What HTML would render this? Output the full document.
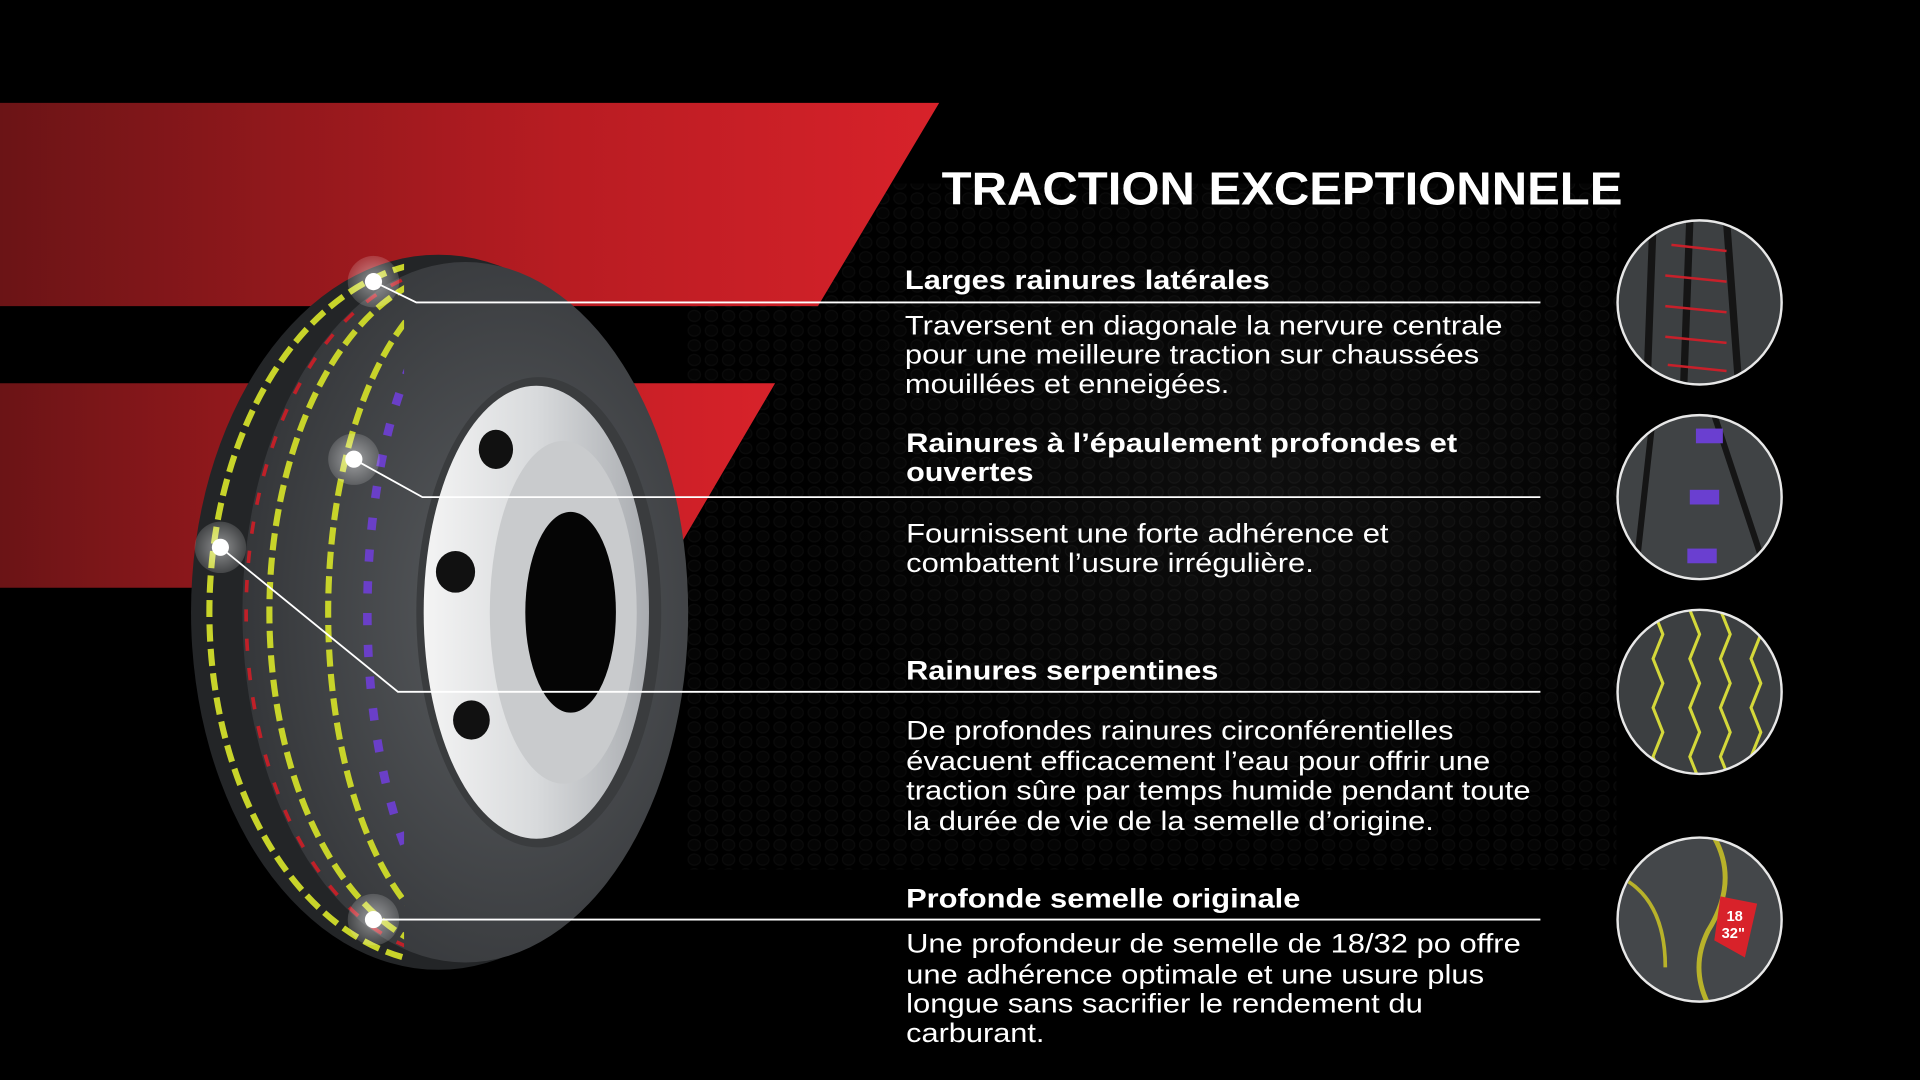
<!DOCTYPE html>
<html><head><meta charset="utf-8"><style>html,body{margin:0;padding:0;background:#000;overflow:hidden}svg{display:block}</style></head>
<body>
<svg width="1920" height="1080" viewBox="0 0 1568 882" preserveAspectRatio="none" xmlns="http://www.w3.org/2000/svg" font-family="Liberation Sans, Arial, sans-serif">
<defs>
<linearGradient id="rg" x1="0" x2="1" y1="0" y2="0"><stop offset="0" stop-color="#6b1416"/><stop offset="0.6" stop-color="#b81c22"/><stop offset="1" stop-color="#d8222a"/></linearGradient>
<radialGradient id="bgg" cx="0.62" cy="0.45" r="0.5"><stop offset="0" stop-color="#1c1c1c"/><stop offset="1" stop-color="#000"/></radialGradient>
<pattern id="hex" width="14" height="12" patternUnits="userSpaceOnUse"><ellipse cx="7" cy="6" rx="5" ry="4.5" fill="#0a0a0a" stroke="#1e1e1e" stroke-width="1"/></pattern>
<radialGradient id="tireg" cx="0.6" cy="0.5" r="0.6"><stop offset="0" stop-color="#5a5d60"/><stop offset="1" stop-color="#35373a"/></radialGradient>
<linearGradient id="wheelg" x1="0" x2="1"><stop offset="0" stop-color="#f4f4f4"/><stop offset="0.5" stop-color="#d8dadc"/><stop offset="1" stop-color="#a9acb0"/></linearGradient>
<radialGradient id="dotg"><stop offset="0" stop-color="#fff" stop-opacity="0.5"/><stop offset="1" stop-color="#fff" stop-opacity="0.15"/></radialGradient>
<clipPath id="tc"><ellipse cx="358" cy="500" rx="202" ry="292"/></clipPath>
<clipPath id="tl"><rect x="0" y="0" width="330" height="882"/></clipPath>
<clipPath id="c1"><circle cx="1388" cy="247" r="67"/></clipPath>
<clipPath id="c2"><circle cx="1388" cy="406" r="67"/></clipPath>
<clipPath id="c3"><circle cx="1388" cy="565" r="67"/></clipPath>
<clipPath id="c4"><circle cx="1388" cy="751" r="67"/></clipPath>
</defs>
<rect width="1568" height="882" fill="#000"/>
<rect x="560" y="150" width="760" height="560" fill="url(#hex)" opacity="0.7"/>
<rect x="560" y="150" width="760" height="560" fill="url(#bgg)" opacity="0.5"/>
<polygon points="0,84 767,84 668,250 0,250" fill="url(#rg)"/>
<polygon points="0,313 633,313 535,480 0,480" fill="url(#rg)"/>

<!-- tire -->
<g>
<ellipse cx="358" cy="500" rx="202" ry="292" fill="#232527"/>
<ellipse cx="380" cy="500" rx="182" ry="286" fill="url(#tireg)"/>
<g clip-path="url(#tc)">
<g clip-path="url(#tl)" fill="none">
<ellipse cx="366" cy="500" rx="195" ry="287" stroke="#c8d42a" stroke-width="5" stroke-dasharray="14 6"/>
<ellipse cx="376" cy="500" rx="175" ry="282" stroke="#c02028" stroke-width="3" stroke-dasharray="10 14"/>
<ellipse cx="384" cy="500" rx="164" ry="280" stroke="#c8d42a" stroke-width="5" stroke-dasharray="14 6"/>
<ellipse cx="400" cy="500" rx="132" ry="278" stroke="#c8d42a" stroke-width="5" stroke-dasharray="14 6"/>
<ellipse cx="410" cy="500" rx="110" ry="276" stroke="#6a3fc8" stroke-width="7" stroke-dasharray="10 16"/>
</g>
</g>
<ellipse cx="440" cy="500" rx="100" ry="192" fill="#3a3c3e"/>
<ellipse cx="438" cy="500" rx="92" ry="185" fill="url(#wheelg)"/>
<ellipse cx="460" cy="500" rx="60" ry="140" fill="#c9cbcd"/>
<ellipse cx="466" cy="500" rx="37" ry="82" fill="#050505"/>
<ellipse cx="405" cy="367" rx="14" ry="16" fill="#111"/>
<ellipse cx="372" cy="467" rx="16" ry="17" fill="#111"/>
<ellipse cx="385" cy="588" rx="15" ry="16" fill="#111"/>
</g>

<!-- connectors -->
<g stroke="#fff" stroke-width="1.5" fill="none">
<polyline points="305,230 340,247 1258,247"/>
<polyline points="289,375 345,406 1258,406"/>
<polyline points="180,447 325,565 1258,565"/>
<polyline points="305,751 1258,751"/>
</g>
<g>
<circle cx="305" cy="230" r="21" fill="url(#dotg)"/><circle cx="305" cy="230" r="7" fill="#fff"/>
<circle cx="289" cy="375" r="21" fill="url(#dotg)"/><circle cx="289" cy="375" r="7" fill="#fff"/>
<circle cx="180" cy="447" r="21" fill="url(#dotg)"/><circle cx="180" cy="447" r="7" fill="#fff"/>
<circle cx="305" cy="751" r="21" fill="url(#dotg)"/><circle cx="305" cy="751" r="7" fill="#fff"/>
</g>

<!-- text -->
<g fill="#fff">
<text x="769" y="167" font-size="38" font-weight="bold" textLength="556" lengthAdjust="spacingAndGlyphs">TRACTION EXCEPTIONNELE</text>
<g font-size="22" font-weight="bold">
<text x="739" y="236" textLength="298" lengthAdjust="spacingAndGlyphs">Larges rainures latérales</text>
<text x="740" y="369" textLength="450" lengthAdjust="spacingAndGlyphs">Rainures à l’épaulement profondes et</text>
<text x="740" y="393" textLength="104" lengthAdjust="spacingAndGlyphs">ouvertes</text>
<text x="740" y="555" textLength="255" lengthAdjust="spacingAndGlyphs">Rainures serpentines</text>
<text x="740" y="741" textLength="322" lengthAdjust="spacingAndGlyphs">Profonde semelle originale</text>
</g>
<g font-size="22">
<text x="739" y="273" textLength="488" lengthAdjust="spacingAndGlyphs">Traversent en diagonale la nervure centrale</text>
<text x="739" y="297" textLength="469" lengthAdjust="spacingAndGlyphs">pour une meilleure traction sur chaussées</text>
<text x="739" y="321" textLength="265" lengthAdjust="spacingAndGlyphs">mouillées et enneigées.</text>
<text x="740" y="443" textLength="394" lengthAdjust="spacingAndGlyphs">Fournissent une forte adhérence et</text>
<text x="740" y="467" textLength="333" lengthAdjust="spacingAndGlyphs">combattent l’usure irrégulière.</text>
<text x="740" y="604" textLength="447" lengthAdjust="spacingAndGlyphs">De profondes rainures circonférentielles</text>
<text x="740" y="629" textLength="477" lengthAdjust="spacingAndGlyphs">évacuent efficacement l’eau pour offrir une</text>
<text x="740" y="653" textLength="510" lengthAdjust="spacingAndGlyphs">traction sûre par temps humide pendant toute</text>
<text x="740" y="678" textLength="431" lengthAdjust="spacingAndGlyphs">la durée de vie de la semelle d’origine.</text>
<text x="740" y="778" textLength="502" lengthAdjust="spacingAndGlyphs">Une profondeur de semelle de 18/32 po offre</text>
<text x="740" y="803" textLength="472" lengthAdjust="spacingAndGlyphs">une adhérence optimale et une usure plus</text>
<text x="740" y="827" textLength="422" lengthAdjust="spacingAndGlyphs">longue sans sacrifier le rendement du</text>
<text x="740" y="851" textLength="113" lengthAdjust="spacingAndGlyphs">carburant.</text>
</g>
</g>

<!-- circles -->
<g clip-path="url(#c1)">
<rect x="1320" y="180" width="136" height="136" fill="#3d4042"/>
<g stroke="#151515" stroke-width="6"><path d="M1350,180 L1345,316 M1380,180 L1375,316 M1410,180 L1420,316"/></g>
<g stroke="#c8202a" stroke-width="2"><path d="M1365,200 L1410,205 M1360,225 L1410,230 M1360,250 L1410,255 M1360,275 L1410,280 M1362,298 L1410,303"/></g>
</g>
<g clip-path="url(#c2)">
<rect x="1320" y="339" width="136" height="136" fill="#404345"/>
<g stroke="#151515" stroke-width="5"><path d="M1350,339 L1335,475 M1400,339 L1445,475"/></g>
<g fill="#6a3fd0"><rect x="1385" y="350" width="22" height="12"/><rect x="1380" y="400" width="24" height="12"/><rect x="1378" y="448" width="24" height="12"/></g>
</g>
<g clip-path="url(#c3)">
<rect x="1320" y="498" width="136" height="136" fill="#3c3f41"/>
<g fill="none" stroke="#d4d83a" stroke-width="2.5"><path d="M1350,498 l8,20 -8,20 8,20 -8,20 8,20 -8,20 8,20"/><path d="M1380,498 l8,20 -8,20 8,20 -8,20 8,20 -8,20 8,20"/><path d="M1405,498 l8,20 -8,20 8,20 -8,20 8,20 -8,20 8,20"/><path d="M1430,498 l8,20 -8,20 8,20 -8,20 8,20 -8,20 8,20"/></g>
</g>
<g clip-path="url(#c4)">
<rect x="1320" y="684" width="136" height="136" fill="#44474a"/>
<path d="M1400,684 Q1420,720 1395,760 Q1380,790 1395,820" fill="none" stroke="#b8b22a" stroke-width="4"/>
<path d="M1330,720 Q1360,740 1360,790" fill="none" stroke="#b8b22a" stroke-width="3"/>
<polygon points="1405,732 1435,738 1425,782 1400,768" fill="#d8222a"/>
<text x="1410" y="752" font-size="12" font-weight="bold" fill="#fff">18</text>
<text x="1406" y="766" font-size="12" font-weight="bold" fill="#fff">32"</text>
</g>
<g fill="none" stroke="#e8e8e8" stroke-width="2">
<circle cx="1388" cy="247" r="67"/><circle cx="1388" cy="406" r="67"/><circle cx="1388" cy="565" r="67"/><circle cx="1388" cy="751" r="67"/>
</g>
</svg>
</body></html>
